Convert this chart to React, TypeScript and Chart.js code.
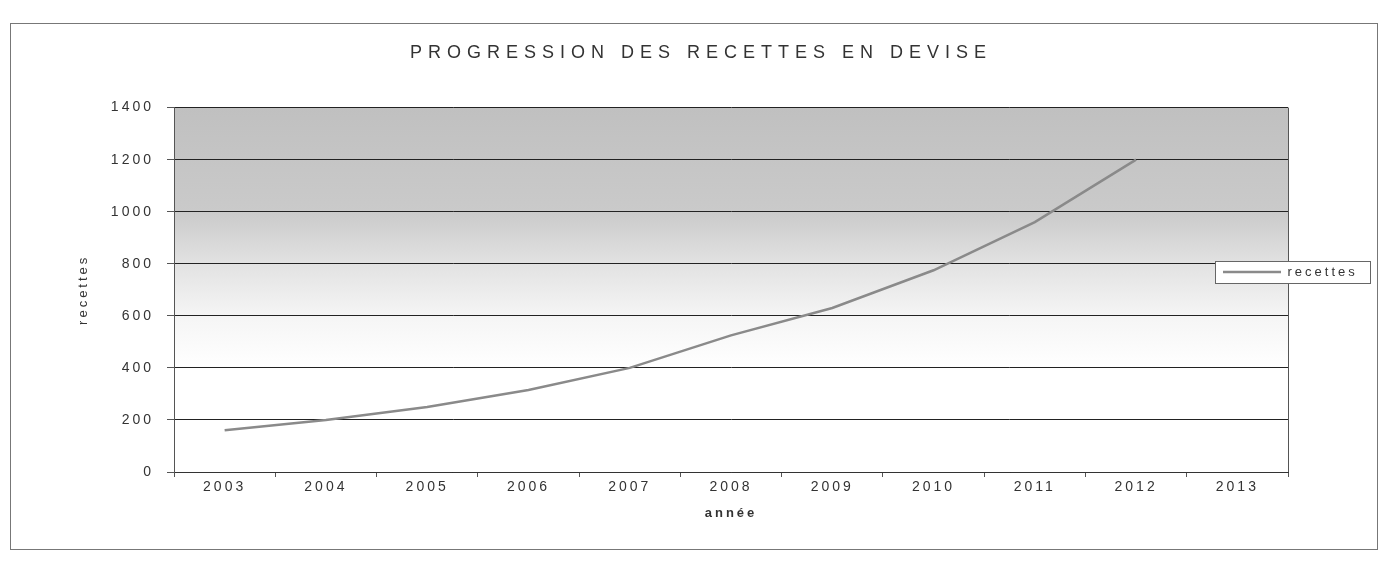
import React, { useEffect, useRef } from "react";
import { Chart, registerables } from "chart.js";

Chart.register(...registerables);

const years = ["2003", "2004", "2005", "2006", "2007", "2008", "2009", "2010", "2011", "2012", "2013"];
const recettes = [160, 200, 250, 315, 400, 525, 630, 775, 960, 1200, null];
const yMin = 0;
const yMax = 1400;
const yStep = 200;

const FONT = "'Liberation Sans', Arial, sans-serif";
const SPACING = "3px";

const framePlugin = {
  id: "frame",
  beforeUpdate(chart: any) {
    chart.ctx.letterSpacing = SPACING;
  },
  beforeDraw(chart: any) {
    const { ctx, chartArea: a, width, height } = chart;
    ctx.save();
    ctx.letterSpacing = "0px";
    ctx.fillStyle = "#ffffff";
    ctx.fillRect(0, 0, width, height);
    ctx.strokeStyle = "#777777";
    ctx.lineWidth = 1;
    ctx.strokeRect(10.5, 23.5, 1367, 526);

    const ys = chart.scales.y;
    const frac = (v: number) => Math.min(1, Math.max(0, (ys.getPixelForValue(v) - a.top) / a.height));
    const g = ctx.createLinearGradient(0, a.top, 0, a.bottom);
    g.addColorStop(frac(1400), "#c0c0c0");
    g.addColorStop(frac(1000), "#cacaca");
    g.addColorStop(frac(800), "#e2e2e2");
    g.addColorStop(frac(600), "#f5f5f5");
    g.addColorStop(frac(400), "#ffffff");
    g.addColorStop(1, "#ffffff");
    ctx.fillStyle = g;
    ctx.fillRect(a.left, a.top, a.width, a.height);

    ctx.strokeStyle = "#555555";
    ctx.beginPath();
    ctx.moveTo(Math.round(a.right) + 0.5, a.top);
    ctx.lineTo(Math.round(a.right) + 0.5, a.bottom);
    ctx.stroke();
    ctx.restore();
    ctx.letterSpacing = SPACING;

    const lg = chart.legend;
    if (lg) {
      const X = a.right - 65;
      const Y = 272 - 6.5;
      lg.left = X;
      lg.right = X + 160;
      lg.top = Y;
      lg.bottom = Y + 22;
      lg.width = 160;
      lg.height = 22;
    }
    const tb = chart.titleBlock;
    if (tb && !tb._spaced) {
      const orig = tb.draw.bind(tb);
      tb.draw = (...args: any[]) => {
        const c = tb.ctx;
        const prev = c.letterSpacing;
        c.save();
        c.translate(22, 0);
        c.letterSpacing = "6px";
        orig(...args);
        c.restore();
        c.letterSpacing = prev;
      };
      tb._spaced = true;
    }
  },
  afterDraw(chart: any) {
    const lg = chart.legend;
    if (!lg) return;
    const { ctx } = chart;
    const bx = Math.round(lg.left - 8) + 0.5;
    const by = Math.round(lg.top + 6.5 - 11) + 0.5;
    ctx.save();
    ctx.fillStyle = "#ffffff";
    ctx.fillRect(bx, by, 155, 22);
    ctx.strokeStyle = "#666666";
    ctx.lineWidth = 1;
    ctx.strokeRect(bx, by, 155, 22);
    ctx.restore();
    ctx.letterSpacing = "3px";
    lg.draw();
    ctx.letterSpacing = SPACING;
  },
};

export default function App() {
  const ref = useRef<HTMLCanvasElement | null>(null);

  useEffect(() => {
    document.body.style.margin = "0";
    if (!ref.current) return;
    const chart = new Chart(ref.current, {
      type: "line",
      data: {
        labels: years,
        datasets: [
          {
            label: "recettes",
            data: recettes,
            borderColor: "#8a8a8a",
            backgroundColor: "#8a8a8a",
            borderWidth: 2.5,
            pointRadius: 0,
            tension: 0,
            spanGaps: false,
          },
        ],
      },
      options: {
        animation: false,
        responsive: false,
        devicePixelRatio: 1,
        color: "#333333",
        font: { family: FONT },
        layout: { padding: { left: 70, right: 100, top: 0, bottom: 0 } },
        plugins: {
          title: {
            display: true,
            text: "PROGRESSION DES RECETTES EN DEVISE",
            color: "#333333",
            font: { family: FONT, size: 18, weight: "normal" },
            padding: { top: 42, bottom: 44 },
          },
          legend: {
            display: true,
            position: "chartArea",
            align: "start",
            labels: {
              padding: 0,
              usePointStyle: true,
              pointStyle: "line",
              pointStyleWidth: 58,
              boxHeight: 13,
              color: "#333333",
              font: { family: FONT, size: 13 },
            },
          },
          tooltip: { enabled: false },
        },
        scales: {
          x: {
            type: "category",
            offset: true,
            grid: {
              display: true,
              drawOnChartArea: false,
              drawTicks: true,
              tickLength: 5,
              offset: true,
              color: "#555555",
            },
            border: { display: true, color: "#333333", width: 1 },
            ticks: {
              color: "#333333",
              font: { family: FONT, size: 14 },
              padding: 2,
              maxRotation: 0,
              autoSkip: false,
            },
            title: {
              display: true,
              text: "année",
              color: "#333333",
              font: { family: FONT, size: 13, weight: "bold" },
              padding: { top: 9, bottom: 44 },
            },
            afterFit(scale: any) {
              scale.height = 93;
            },
          },
          y: {
            min: yMin,
            max: yMax,
            grid: {
              color: "#222222",
              lineWidth: 1,
              drawTicks: true,
              tickLength: 7,
              tickColor: "#555555",
            },
            border: { display: true, color: "#555555", width: 1 },
            ticks: {
              stepSize: yStep,
              color: "#333333",
              font: { family: FONT, size: 14 },
              padding: 13,
              callback: (v: any) => String(v),
            },
            title: {
              display: true,
              text: "recettes",
              color: "#333333",
              font: { family: FONT, size: 13 },
              padding: { top: 6, bottom: 0 },
            },
            afterFit(scale: any) {
              scale.width = 104;
            },
          },
        },
      },
      plugins: [framePlugin],
    } as any);
    return () => chart.destroy();
  }, []);

  return (
    <div style={{ position: "absolute", left: 0, top: 0, width: 1388, height: 565 }}>
      <canvas ref={ref} width={1388} height={565} />
    </div>
  );
}
